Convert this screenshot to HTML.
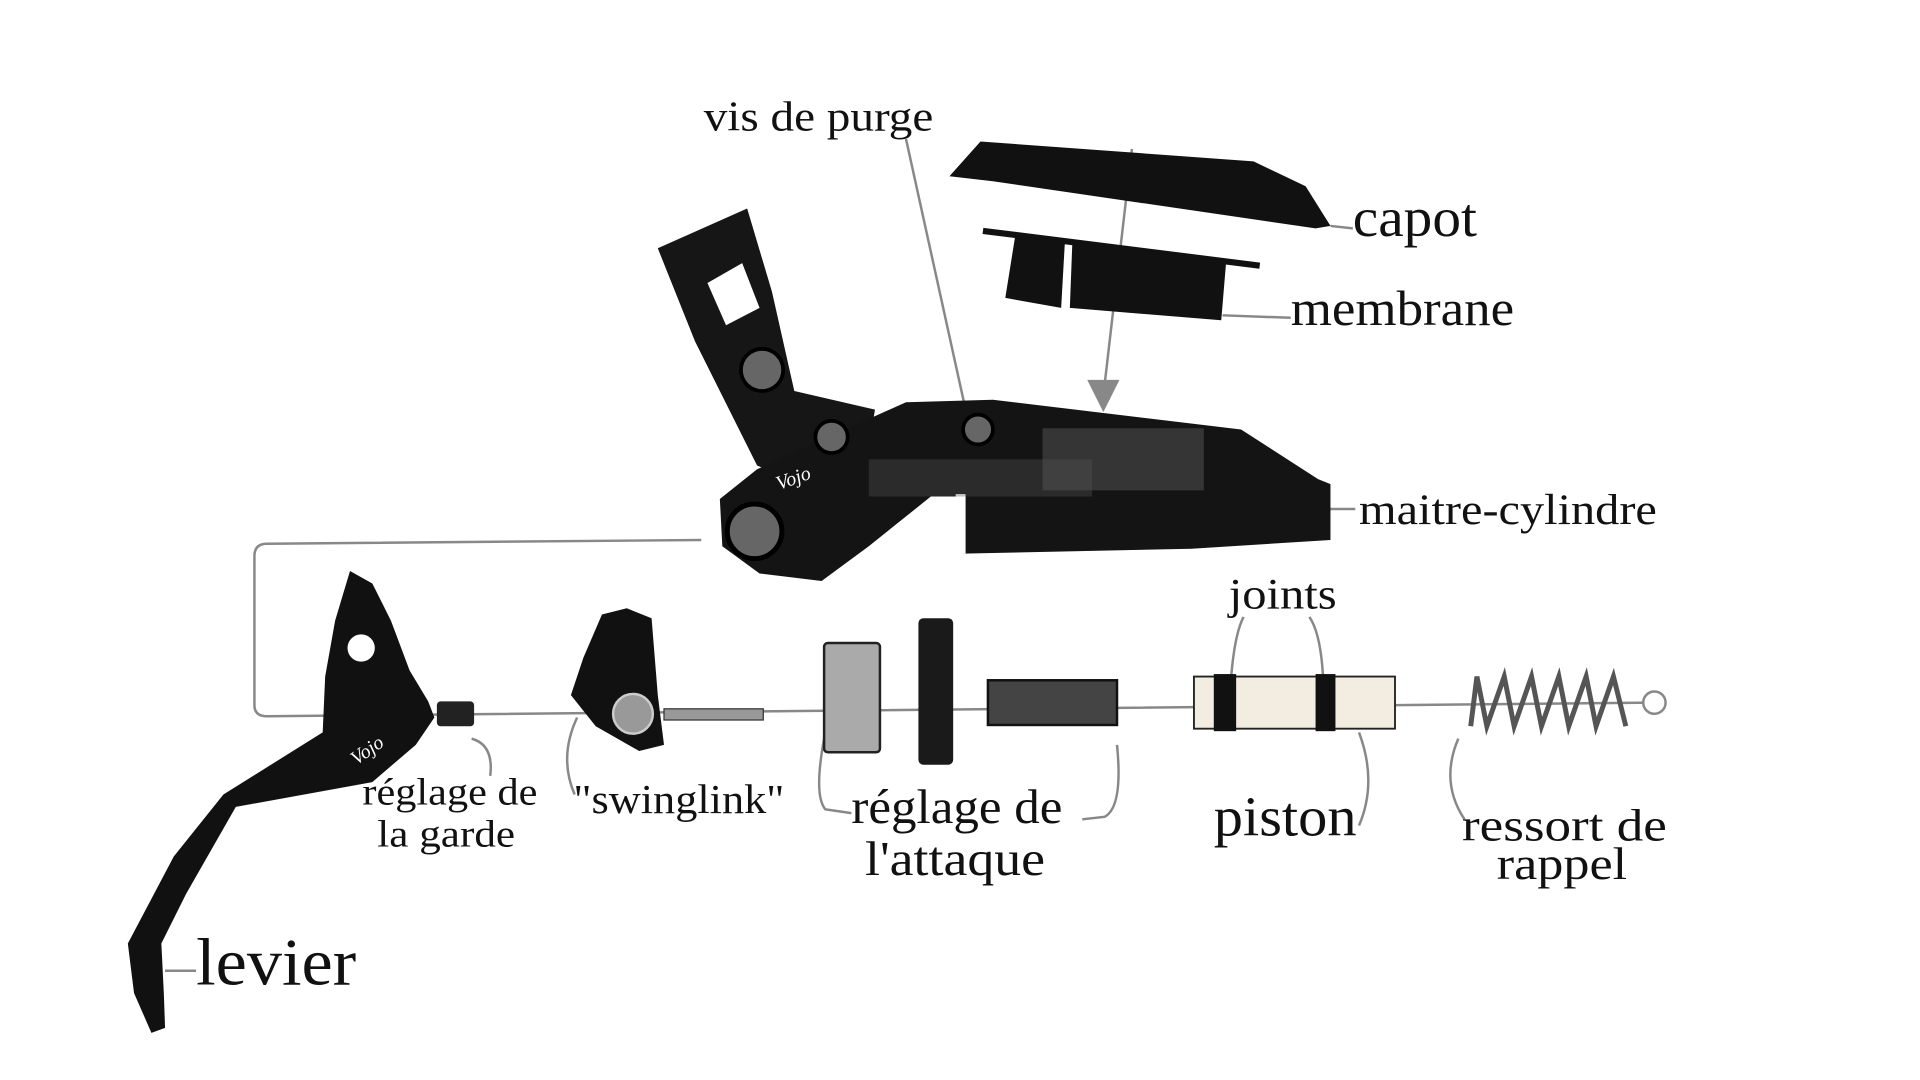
<!DOCTYPE html>
<html><head><meta charset="utf-8"><style>
html,body{margin:0;padding:0;background:#fff;width:1920px;height:1080px;overflow:hidden}
svg{display:block}
text{font-family:"Liberation Serif",serif;fill:#111}
</style></head><body>
<svg width="1920" height="1080" viewBox="0 0 1547 870" preserveAspectRatio="none">
<g fill="none" stroke="#888" stroke-width="2">
<path d="M565,435 L215,438 Q205,438 205,448 L205,568 Q205,577 215,577 L1330,566"/>
<path d="M730,112 L778,330"/>
<path d="M912,120 L890,310"/>
<path d="M1072,182 L1090,184"/>
<path d="M985,254 L1040,256"/>
<path d="M1072,410 L1092,410"/>
<path d="M380,595 Q398,600 395,625"/>
<path d="M465,578 Q450,610 463,640"/>
<path d="M665,590 Q655,640 665,652 L686,655"/>
<path d="M900,600 Q905,650 890,658 L872,660"/>
<path d="M992,545 Q995,510 1002,497"/>
<path d="M1066,545 Q1064,510 1055,497"/>
<path d="M1095,590 Q1110,630 1095,665"/>
<path d="M1175,595 Q1160,630 1180,660"/>
<path d="M133,782 L158,782"/>
</g>
<polygon points="876,306 902,306 889,332" fill="#888"/>
<!-- capot -->
<polygon points="765,142 790,114 1010,130 1052,150 1072,182 1060,184 800,146" fill="#111"/>
<line x1="792" y1="186" x2="1015" y2="214" stroke="#111" stroke-width="5"/>
<polygon points="818,190 858,195 855,248 810,240" fill="#111"/>
<polygon points="864,196 988,210 984,258 862,248" fill="#111"/>
<!-- upper arm -->
<polygon points="530,200 602,168 622,235 640,315 705,330 700,360 650,392 610,375 560,275" fill="#161616"/>
<polygon points="570,228 598,212 612,248 585,262" fill="#fff"/>
<!-- body -->
<polygon points="580,402 610,378 650,360 730,324 800,322 1000,346 1062,386 1072,390 1072,435 960,442 776,446 772,400 750,400 700,440 662,468 612,462 582,440" fill="#141414"/>
<rect x="770" y="398" width="8" height="48" fill="#fff"/>
<g fill="#555"><rect x="840" y="345" width="130" height="50" opacity=".5"/><rect x="700" y="370" width="180" height="30" opacity=".35"/></g>
<circle cx="614" cy="298" r="17" fill="#666" stroke="#000" stroke-width="3"/>
<circle cx="670" cy="352" r="13" fill="#666" stroke="#000" stroke-width="3"/>
<circle cx="788" cy="346" r="12" fill="#666" stroke="#000" stroke-width="3"/>
<circle cx="608" cy="428" r="22" fill="#666" stroke="#000" stroke-width="4"/>
<text x="625" y="390" font-size="16" style="fill:#fff;font-style:italic" transform="rotate(-20 640 385)">Vojo</text>
<!-- lever -->
<path d="M282,460 L300,470 L315,500 L330,540 L345,565 L350,578 L335,600 L300,630 L190,650 L150,720 L130,760 L132,800 L133,828 L122,832 L108,800 L103,760 L140,690 L180,640 L260,590 L262,545 L270,500 Z" fill="#111"/>
<circle cx="291" cy="522" r="11" fill="#fff"/>
<rect x="352" y="565" width="30" height="20" rx="3" fill="#222"/>
<text x="278" y="612" font-size="16" style="fill:#fff;font-style:italic" transform="rotate(-35 290 600)">Vojo</text>
<!-- swinglink -->
<path d="M485,495 L505,490 L525,498 L530,560 L535,600 L515,605 L480,585 L460,560 L470,530 Z" fill="#111"/>
<circle cx="510" cy="575" r="16" fill="#999" stroke="#ccc" stroke-width="2"/>
<rect x="535" y="571" width="80" height="9" fill="#999" stroke="#333"/>
<!-- components -->
<rect x="664" y="518" width="45" height="88" rx="3" fill="#aaa" stroke="#222" stroke-width="2"/>
<rect x="740" y="498" width="28" height="118" rx="4" fill="#1a1a1a"/>
<rect x="796" y="548" width="104" height="36" fill="#444" stroke="#111" stroke-width="2"/>
<rect x="962" y="545" width="162" height="42" fill="#f3ece0" stroke="#222" stroke-width="1.5"/>
<rect x="978" y="543" width="18" height="46" fill="#111"/>
<rect x="1060" y="543" width="16" height="46" fill="#111"/>
<polyline fill="none" stroke="#555" stroke-width="4" points="1185,585 1190,545 1198,585 1212,545 1220,585 1234,545 1242,585 1256,545 1264,585 1278,545 1286,585 1300,545 1310,585"/>
<circle cx="1333" cy="566" r="9" fill="#fff" stroke="#888" stroke-width="2"/>
<!-- labels -->
<g lengthAdjust="spacingAndGlyphs">
<text x="567" y="105" font-size="34" textLength="185" lengthAdjust="spacingAndGlyphs">vis de purge</text>
<text x="1090" y="190" font-size="44" textLength="100" lengthAdjust="spacingAndGlyphs">capot</text>
<text x="1040" y="262" font-size="40" textLength="180" lengthAdjust="spacingAndGlyphs">membrane</text>
<text x="1095" y="422" font-size="35" textLength="240" lengthAdjust="spacingAndGlyphs">maitre-cylindre</text>
<text x="990" y="490" font-size="35" textLength="87" lengthAdjust="spacingAndGlyphs">joints</text>
<text x="292" y="648" font-size="31" textLength="141" lengthAdjust="spacingAndGlyphs">réglage de</text>
<text x="304" y="682" font-size="31" textLength="111" lengthAdjust="spacingAndGlyphs">la garde</text>
<text x="462" y="655" font-size="33" textLength="170" lengthAdjust="spacingAndGlyphs">"swinglink"</text>
<text x="686" y="663" font-size="39" textLength="170" lengthAdjust="spacingAndGlyphs">réglage de</text>
<text x="697" y="705" font-size="39" textLength="145" lengthAdjust="spacingAndGlyphs">l'attaque</text>
<text x="978" y="673" font-size="45" textLength="115" lengthAdjust="spacingAndGlyphs">piston</text>
<text x="1178" y="677" font-size="37" textLength="165" lengthAdjust="spacingAndGlyphs">ressort de</text>
<text x="1206" y="708" font-size="37" textLength="105" lengthAdjust="spacingAndGlyphs">rappel</text>
<text x="158" y="793" font-size="54" textLength="129" lengthAdjust="spacingAndGlyphs">levier</text>
</g>
</svg>
</body></html>
